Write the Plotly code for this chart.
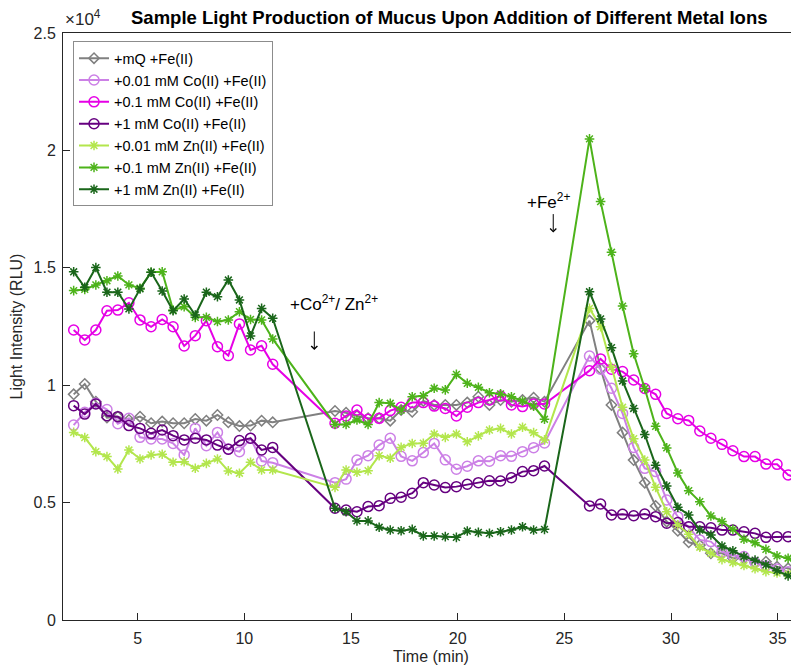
import plotly.graph_objects as go

# Time points (min)
time_min = [2.00, 2.52, 3.04, 3.56, 4.07, 4.59, 5.11, 5.63, 6.15, 6.66, 7.18, 7.70, 8.22, 8.74, 9.25, 9.77, 10.29, 10.81, 11.33,
            14.25, 14.77, 15.28, 15.80, 16.32, 16.84, 17.35, 17.87, 18.39, 18.90, 19.42, 19.94, 20.45, 20.97, 21.49, 22.01, 22.52, 23.04, 23.56, 24.07,
            26.18, 26.70, 27.21, 27.73, 28.25, 28.77, 29.28, 29.80, 30.32, 30.83, 31.35, 31.87, 32.39, 32.90, 33.42, 33.94, 34.45, 34.97, 35.49, 36.00]

mq_fe = [9610, 10050, 9300, 8620, 8660, 8520, 8660, 8380, 8450, 8380, 8380, 8560, 8490, 8730, 8420, 8260, 8280, 8490, 8420,
         8900, 8830, 8690, 8590, 8590, 8490, 8940, 8870, 9330, 9160, 9160, 9160, 9260, 9510, 9160, 9370, 9300, 9370, 9470, 9300,
         12750, 10700, 9160, 7980, 6810, 5850, 4860, 4190, 3800, 3310, 3190, 2840, 2840, 2630, 2630, 2440, 2480, 2270, 2200, 2050]

co001_fe = [8300, 8850, 9230, 8960, 8360, 8590, 7780, 7710, 7710, 7520, 7030, 8160, 7420, 7990, 7280, 7170, 7740, 6770, 6700,
            5850, 6000, 6810, 7000, 7450, 7740, 6970, 6780, 7130, 7520, 6820, 6420, 6550, 6780, 6760, 7000, 6970, 7170, 7340, 7540,
            11240, 10680, 9870, 8800, 7350, 6460, 6320, 5110, 4400, 3950, 3410, 3340, 2910, 2750, 2700, 2450, 2300, 2170, 2060, 2050]

co01_fe = [12350, 11930, 12350, 13170, 13200, 13510, 12780, 12490, 12800, 12490, 11670, 12110, 12750, 11640, 11260, 12610, 11500, 11680, 10890,
           8380, 8690, 8940, 8550, 8590, 8920, 9060, 9260, 9260, 9110, 9010, 8690, 9060, 9260, 9370, 9540, 9160, 9090, 9200, 9200,
           10620, 11120, 10680, 10580, 10220, 9860, 9610, 8800, 8570, 8500, 8050, 7740, 7480, 7210, 6960, 6960, 6640, 6630, 6180, 6030]

co1_fe = [9130, 8770, 9200, 8700, 8660, 8280, 8160, 7950, 8090, 7850, 7670, 7740, 7670, 7450, 7270, 7640, 7740, 7240, 7350,
          4760, 4680, 4610, 4830, 4870, 5180, 5230, 5400, 5850, 5750, 5640, 5680, 5780, 5850, 5930, 5920, 6060, 6320, 6360, 6560,
          4860, 4940, 4470, 4500, 4440, 4510, 4400, 4120, 4150, 3970, 3970, 3930, 3830, 3830, 3760, 3690, 3520, 3550, 3550, 3520]

zn001_fe = [7990, 7770, 7170, 6960, 6430, 7240, 6860, 7030, 7060, 6720, 6740, 6460, 6670, 6860, 6350, 6250, 6720, 6390, 6390,
            5650, 6390, 6290, 6360, 7000, 6890, 7350, 7520, 7530, 7920, 7780, 7920, 7590, 7840, 8090, 8160, 7920, 8210, 7980, 7670,
            13270, 12490, 10760, 9060, 7720, 6810, 5650, 4610, 4050, 3650, 3100, 2840, 2570, 2450, 2320, 2180, 2060, 2000, 1960, 1860]

zn01_fe = [14030, 14080, 14270, 14450, 14650, 14270, 14130, 14810, 14830, 13200, 13340, 12890, 12890, 12710, 12780, 13130, 12800, 12780, 11970,
           8330, 8330, 8520, 8330, 9260, 9230, 8940, 9510, 9550, 9870, 9800, 10460, 10080, 9910, 9680, 9630, 9510, 9330, 9110, 8550,
           20490, 17820, 15660, 13370, 11340, 9860, 8250, 7330, 6260, 5510, 5040, 4430, 4190, 3860, 3440, 3290, 3010, 2730, 2630, 2440]

zn1_fe = [14830, 14170, 15010, 13960, 13960, 13250, 14100, 14810, 14010, 13170, 13670, 12990, 13960, 13770, 14480, 13630, 12100, 13270, 12850,
          4760, 4610, 4220, 4220, 3950, 3830, 3800, 3860, 3580, 3580, 3550, 3520, 3790, 3730, 3690, 3760, 3830, 3970, 3830, 3860,
          13980, 12820, 11600, 10180, 9010, 7900, 6590, 5710, 4800, 4470, 3830, 3620, 3150, 2950, 2700, 2550, 2350, 2100, 1880, 1820]

series_names = ["+mQ +Fe(II)", "+0.01 mM Co(II) +Fe(II)", "+0.1 mM Co(II) +Fe(II)", "+1 mM Co(II) +Fe(II)",
                "+0.01 mM Zn(II) +Fe(II)", "+0.1 mM Zn(II) +Fe(II)", "+1 mM Zn(II) +Fe(II)"]
series_values = [mq_fe, co001_fe, co01_fe, co1_fe, zn001_fe, zn01_fe, zn1_fe]

y_tickvals = [0, 5000, 10000, 15000, 20000, 25000]
y_ticktext = ["0", "0.5", "1", "1.5", "2", "2.5"]
x_tickvals = [5, 10, 15, 20, 25, 30, 35]

colors = ["#808080", "#CC80E6", "#E600E6", "#660080", "#B3E64D", "#4DB31A", "#1A661A"]
symbols = ["diamond-open", "circle-open", "circle-open", "circle-open", "asterisk-open", "asterisk-open", "asterisk-open"]
sizes = [8, 10, 10, 10, 8, 8, 8]

fig = go.Figure()
for name, vals, c, s, sz in zip(series_names, series_values, colors, symbols, sizes):
    fig.add_trace(go.Scatter(
        x=time_min, y=vals, name=name, mode="lines+markers",
        line=dict(color=c, width=2),
        marker=dict(symbol=s, size=sz, color=c, line=dict(color=c, width=1.5)),
    ))

font_family = "Liberation Sans, Arial, Helvetica, sans-serif"
axis_color = "#262626"

# The page body has an 8px default margin, so the figure is sized/offset to compensate.
fig.update_layout(
    width=791, height=659,
    margin=dict(l=55, r=0, t=25, b=47),
    paper_bgcolor="white", plot_bgcolor="white",
    font=dict(family=font_family, size=16, color=axis_color),
    showlegend=True,
    legend=dict(x=0.0136, y=0.986, xanchor="left", yanchor="top",
                bordercolor="#8c8c8c", borderwidth=1, bgcolor="white",
                font=dict(size=14.5, color="#000000"), tracegroupgap=0),
    xaxis=dict(range=[1.5, 36], tickvals=x_tickvals, ticks="inside", ticklen=7,
               tickcolor=axis_color, showline=True, linecolor=axis_color, linewidth=1,
               mirror=True, showgrid=False, zeroline=False, ticklabelstandoff=4,
               title=dict(text="Time (min)", font=dict(size=16), standoff=4)),
    yaxis=dict(range=[0, 25000], tickvals=y_tickvals, ticktext=y_ticktext, ticks="inside", ticklen=7,
               tickcolor=axis_color, showline=True, linecolor=axis_color, linewidth=1,
               mirror=False, showgrid=False, zeroline=False, ticklabelstandoff=3,
               title=dict(text="Light Intensity (RLU)", font=dict(size=16), standoff=8)),
)

fig.add_annotation(xref="paper", yref="paper", x=0.0, y=1.0256, xanchor="left", yanchor="middle",
                   text="×10<sup>4</sup>", showarrow=False, font=dict(size=17, color=axis_color))
fig.add_annotation(xref="paper", yref="paper", x=0.5245, y=1.0256, xanchor="center", yanchor="middle",
                   text="<b>Sample Light Production of Mucus Upon Addition of Different Metal Ions</b>",
                   showarrow=False, font=dict(size=18.5, color="#000000"))

# Event annotations
fig.add_annotation(x=14.2, y=13500, xref="x", yref="y", xanchor="center", yanchor="middle",
                   text="+Co<sup>2+</sup>/ Zn<sup>2+</sup>", showarrow=False, font=dict(size=17, color="#000000"))
fig.add_annotation(x=13.28, y=11500, ax=0, ay=-20, xref="x", yref="y", axref="pixel", ayref="pixel",
                   text="", showarrow=True, arrowhead=4, arrowsize=1.2, arrowwidth=1, arrowcolor="#000000")
fig.add_annotation(x=24.25, y=17840, xref="x", yref="y", xanchor="center", yanchor="middle",
                   text="+Fe<sup>2+</sup>", showarrow=False, font=dict(size=17, color="#000000"))
fig.add_annotation(x=24.48, y=16500, ax=0, ay=-20, xref="x", yref="y", axref="pixel", ayref="pixel",
                   text="", showarrow=True, arrowhead=4, arrowsize=1.2, arrowwidth=1, arrowcolor="#000000")

fig.write_html("out.html")
